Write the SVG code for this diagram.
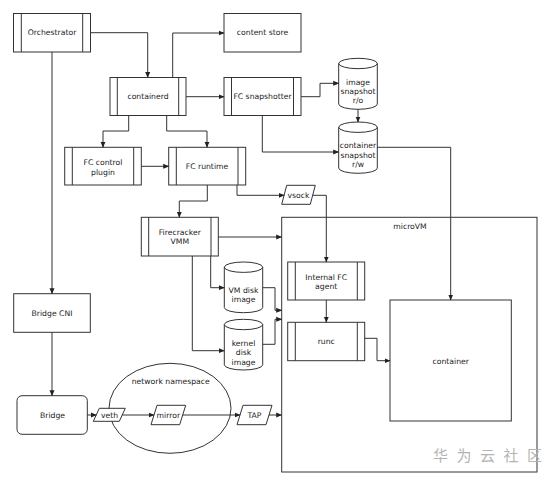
<svg xmlns="http://www.w3.org/2000/svg" width="555" height="481" viewBox="0 0 555 481">
<style>
.b{fill:#fff;stroke:#333;stroke-width:1}
.l{fill:none;stroke:#333;stroke-width:1}
text{font-family:"DejaVu Sans","Liberation Sans",sans-serif;font-size:7.7px;fill:#222;text-anchor:middle}
.c{fill:none;stroke:#333;stroke-width:1;marker-end:url(#a)}
.wm{font-family:"Noto Sans CJK SC",sans-serif;font-size:15px;fill:#b4b4b4;text-anchor:start;letter-spacing:8.5px}
</style>
<defs>
<marker id="a" markerWidth="6" markerHeight="6" refX="5.5" refY="3" orient="auto" markerUnits="userSpaceOnUse"><path d="M0,0.5 L6,3 L0,5.5 z" fill="#222"/></marker>
</defs>
<rect width="555" height="481" fill="#fff"/>
<g id="microVM">
<rect class="b" x="281.7" y="217.3" width="255.3" height="254.7"/>
<text x="410" y="229">microVM</text>
</g>
<g id="netns">
<ellipse class="b" cx="170" cy="408.3" rx="61" ry="45"/>
<text x="170.7" y="384">network namespace</text>
</g>
<g id="orchestrator">
<rect class="b" x="13.5" y="13.5" width="77" height="38.5"/>
<path class="l" d="M21.3,13.5V52M82.7,13.5V52"/>
<text x="52" y="35.4">Orchestrator</text>
</g>
<g id="containerd">
<rect class="b" x="110" y="77.5" width="76" height="38"/>
<path class="l" d="M117.3,77.5V115.5M178.7,77.5V115.5"/>
<text x="148" y="99.2">containerd</text>
</g>
<g id="contentstore">
<rect class="b" x="224" y="13.5" width="77" height="38.5"/>
<text x="262.5" y="35.4">content store</text>
</g>
<g id="snapshotter">
<rect class="b" x="224" y="77.5" width="77" height="38"/>
<path class="l" d="M231.5,77.5V115.5M293.5,77.5V115.5"/>
<text x="262.5" y="99.2">FC snapshotter</text>
</g>
<g id="imagesnapshot">
<path class="b" d="M338.7,63.5 A19.3,5.2 0 0 1 377.3,63.5 V104.1 A19.3,5.2 0 0 1 338.7,104.1 Z"/>
<path class="l" d="M338.7,63.5 A19.3,5.2 0 0 0 377.3,63.5"/>
<text x="358" y="84.7">image</text>
<text x="358" y="94">snapshot</text>
<text x="358" y="103.4">r/o</text>
</g>
<g id="containersnapshot">
<path class="b" d="M338.7,127.2 A19.3,5.2 0 0 1 377.3,127.2 V168.1 A19.3,5.2 0 0 1 338.7,168.1 Z"/>
<path class="l" d="M338.7,127.2 A19.3,5.2 0 0 0 377.3,127.2"/>
<text x="358" y="148.4">container</text>
<text x="358" y="157.7">snapshot</text>
<text x="358" y="167">r/w</text>
</g>
<g id="fccontrol">
<rect class="b" x="64.7" y="147.3" width="76.6" height="37.7"/>
<path class="l" d="M72.3,147.3V185M133.7,147.3V185"/>
<text x="103" y="165">FC control</text>
<text x="103" y="174.7">plugin</text>
</g>
<g id="fcruntime">
<rect class="b" x="168.7" y="147.3" width="77" height="37.7"/>
<path class="l" d="M176.3,147.3V185M238,147.3V185"/>
<text x="207" y="168.8">FC runtime</text>
</g>
<g id="vsock">
<path class="b" d="M286.7,185.3H315.3L310.3,204.3H281.7Z"/>
<text x="298.5" y="198">vsock</text>
</g>
<g id="vmm">
<rect class="b" x="141.3" y="217.3" width="77" height="38.7"/>
<path class="l" d="M148.7,217.3V256M211,217.3V256"/>
<text x="179.8" y="235">Firecracker</text>
<text x="179.8" y="244.4">VMM</text>
</g>
<g id="vmdisk">
<path class="b" d="M224.3,267.2 A19.2,5.2 0 0 1 262.7,267.2 V307.5 A19.2,5.2 0 0 1 224.3,307.5 Z"/>
<path class="l" d="M224.3,267.2 A19.2,5.2 0 0 0 262.7,267.2"/>
<text x="243.5" y="292.7">VM disk</text>
<text x="243.5" y="302">image</text>
</g>
<g id="kernel">
<path class="b" d="M224.3,324.5 A19.2,5.2 0 0 1 262.7,324.5 V364.8 A19.2,5.2 0 0 1 224.3,364.8 Z"/>
<path class="l" d="M224.3,324.5 A19.2,5.2 0 0 0 262.7,324.5"/>
<text x="243.5" y="346">kernel</text>
<text x="243.5" y="355.4">disk</text>
<text x="243.5" y="364.7">image</text>
</g>
<g id="agent">
<rect class="b" x="287.7" y="262" width="77" height="38"/>
<path class="l" d="M295.3,262V300M357.3,262V300"/>
<text x="326.2" y="279.7">Internal FC</text>
<text x="326.2" y="289.4">agent</text>
</g>
<g id="runc">
<rect class="b" x="287.7" y="322.3" width="77" height="38.4"/>
<path class="l" d="M295.3,322.3V360.7M357.3,322.3V360.7"/>
<text x="326.2" y="344.4">runc</text>
</g>
<g id="container">
<rect class="b" x="390" y="300" width="121.3" height="121"/>
<text x="450.7" y="363.7">container</text>
</g>
<g id="bridgecni">
<rect class="b" x="13.7" y="293.7" width="76.6" height="38.6"/>
<text x="52" y="316">Bridge CNI</text>
</g>
<g id="bridge">
<rect class="b" x="17" y="395.7" width="70.3" height="38.6" rx="5"/>
<text x="52.5" y="417.7">Bridge</text>
</g>
<g id="veth">
<path class="b" d="M99.3,408.3H125.3L119.3,421.3H93.3Z"/>
<text x="109.5" y="417.7">veth</text>
</g>
<g id="mirror">
<path class="b" d="M157,405.3H185.7L179.7,424.7H151Z"/>
<text x="168.3" y="417.7">mirror</text>
</g>
<g id="tap">
<path class="b" d="M243,405.3H272L266,424.7H237Z"/>
<text x="254.5" y="417.7">TAP</text>
</g>
<g id="connectors">
<path class="c" d="M90.5,32.7H147.7V77.5"/>
<path class="c" d="M172.7,77.5V33H224"/>
<path class="c" d="M186,96.7H224"/>
<path class="c" d="M301,96.7H320V83.3H338.7"/>
<path class="c" d="M358,109.3V122"/>
<path class="c" d="M262.3,115.5V152H338.7"/>
<path class="c" d="M377.3,147.3H450.7V300"/>
<path class="c" d="M128.7,115.5V131H103V147.3"/>
<path class="c" d="M166.7,115.5V131H207V147.3"/>
<path class="c" d="M141.3,166.3H168.7"/>
<path class="c" d="M237,185V195.3H284.2"/>
<path class="c" d="M312.8,195.3H326.3V262"/>
<path class="c" d="M207.3,185V201H179.3V217.3"/>
<path class="c" d="M218.3,237H281.7"/>
<path class="c" d="M210.7,256V287.7H224.3"/>
<path class="c" d="M192.3,256V350.7H224.3"/>
<path class="c" d="M262.7,287.7H275V310.3H281.7"/>
<path class="c" d="M262.7,344.3H275V319.3H281.7"/>
<path class="c" d="M326.3,300V322.3"/>
<path class="c" d="M364.7,338.3H377V360.7H390"/>
<path class="c" d="M52,52V293.7"/>
<path class="c" d="M52,332.3V395.7"/>
<path class="c" d="M87.3,415H96.3"/>
<path class="c" d="M122.3,415H154"/>
<path class="c" d="M182.7,415H240"/>
<path class="c" d="M269,415H281.7"/>
</g>
<text class="wm" x="433" y="461">华为云社区</text>
</svg>
